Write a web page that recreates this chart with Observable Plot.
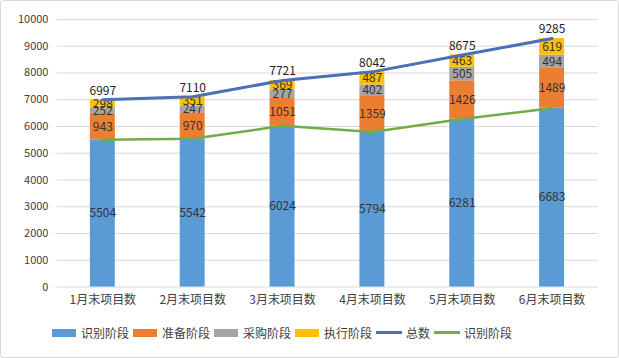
<!DOCTYPE html>
<html><head><meta charset="utf-8">
<script src="https://cdn.jsdelivr.net/npm/d3@7"></script>
<script src="https://cdn.jsdelivr.net/npm/@observablehq/plot@0.6"></script>
<style>
html,body{margin:0;padding:0;background:#fff;}
#wrap{position:relative;width:617px;height:356px;border:1px solid #d9d9d9;border-radius:3px;font-family:"Noto Sans CJK SC","Noto Sans",sans-serif;overflow:hidden;}
#chart{position:absolute;left:-1px;top:-1px;}
#legend{position:absolute;left:51px;top:323px;display:flex;align-items:center;font-size:12px;color:#404040;white-space:nowrap;}
.item{display:flex;align-items:center;margin-right:4px;}
.sw{width:24px;height:8px;margin-right:5px;}
.ln{width:26px;height:3px;margin-right:4px;}
</style></head>
<body><div id="wrap"><div id="chart"></div><div id="legend"></div></div>
<script>
const categories = ["1月末项目数","2月末项目数","3月末项目数","4月末项目数","5月末项目数","6月末项目数"];
const stages = ["识别阶段","准备阶段","采购阶段","执行阶段"];
const identify = [5504,5542,6024,5794,6281,6683];
const prepare  = [943,970,1051,1359,1426,1489];
const purchase = [252,247,277,402,505,494];
const execute  = [298,351,369,487,463,619];
const totals   = [6997,7110,7721,8042,8675,9285];
const yTicks = d3.range(0,10001,1000);
const colors = ["#5B9BD5","#ED7D31","#A5A5A5","#FFC000"];
const lineBlue = "#4A70B5", lineGreen = "#70AD47";

const seriesVals = [identify,prepare,purchase,execute];
const rows = [];
categories.forEach((c,i)=>stages.forEach((s,j)=>rows.push({cat:c,stage:s,value:seriesVals[j][i]})));
const totalRows = categories.map((c,i)=>({cat:c,value:totals[i]}));
const idRows = categories.map((c,i)=>({cat:c,value:identify[i]}));

const plot = Plot.plot({
  width:619, height:312,
  marginTop:19, marginBottom:25, marginLeft:57, marginRight:20,
  style:{fontFamily:'"Noto Sans CJK SC","Noto Sans",sans-serif', background:"transparent"},
  x:{domain:categories, paddingInner:0.72, paddingOuter:0.36, label:null},
  y:{domain:[0,10000], label:null},
  color:{domain:stages, range:colors},
  marks:[
    Plot.gridY(yTicks,{stroke:"#d9d9d9", strokeOpacity:1}),
    Plot.axisY(yTicks,{tickSize:0, tickPadding:9, fontSize:11, fill:"#404040", label:null, tickFormat:d3.format("d")}),
    Plot.axisX({tickSize:0, tickPadding:8, fontSize:12, fill:"#404040", label:null}),
    Plot.barY(rows, {x:"cat", y:"value", fill:"stage", order:stages}),
    Plot.text(rows, Plot.stackY({x:"cat", y:"value", z:"stage", order:stages, text:d=>String(d.value), fill:"#333", fontSize:12})),
    Plot.line(idRows, {x:"cat", y:"value", stroke:lineGreen, strokeWidth:2.5}),
    Plot.line(totalRows, {x:"cat", y:"value", stroke:lineBlue, strokeWidth:3}),
    Plot.text(totalRows, {x:"cat", y:"value", text:d=>String(d.value), dy:-9, fill:"#222", fontSize:12})
  ]
});
document.getElementById("chart").appendChild(plot);

const legend = document.getElementById("legend");
const items = stages.map((s,i)=>({label:s, color:colors[i], type:"sw"}))
  .concat([{label:"总数", color:lineBlue, type:"ln"},{label:"识别阶段", color:lineGreen, type:"ln"}]);
items.forEach(it=>{
  const d=document.createElement("div"); d.className="item";
  const s=document.createElement("span"); s.className=it.type; s.style.background=it.color;
  d.appendChild(s); d.appendChild(document.createTextNode(it.label)); legend.appendChild(d);
});
</script></body></html>
